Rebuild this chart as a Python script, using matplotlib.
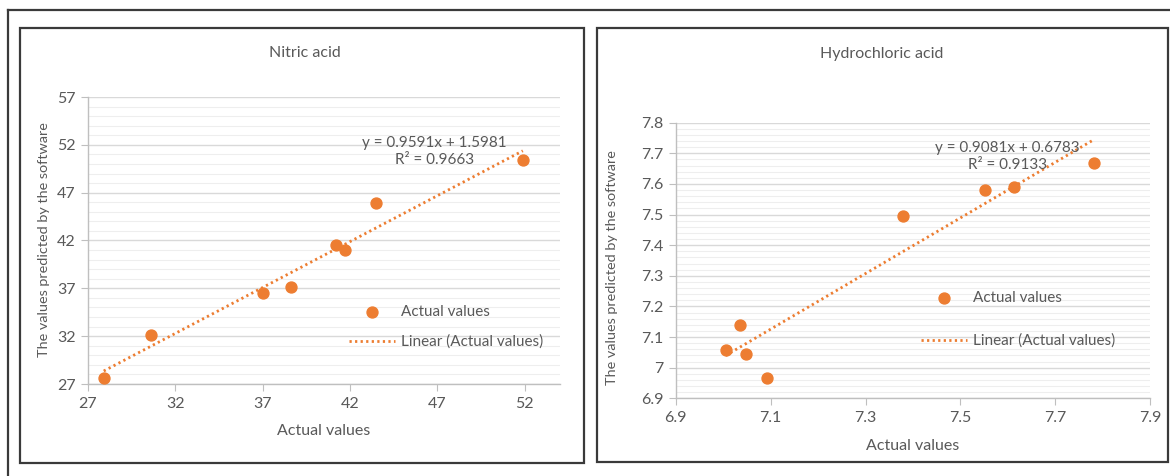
import matplotlib
matplotlib.use("Agg")
import matplotlib.pyplot as plt
import numpy as np
from matplotlib.lines import Line2D
from matplotlib.ticker import FuncFormatter, MultipleLocator

plt.rcParams['font.family'] = ['Lato', 'DejaVu Sans']

ORANGE = '#ED7D31'
TXT = '#595959'

# Nitric acid: actual vs predicted
nitric_actual = [27.9, 30.6, 37.0, 38.6, 41.2, 41.7, 43.5, 51.9]
nitric_pred = [27.6, 32.15, 36.5, 37.1, 41.5, 41.0, 45.9, 50.4]
nitric_slope, nitric_icpt, nitric_r2 = 0.9591, 1.5981, 0.9663
nitric_xticks = [27, 32, 37, 42, 47, 52]
nitric_yticks = [27, 32, 37, 42, 47, 52, 57]

# Hydrochloric acid: actual vs predicted
hcl_actual = [7.005, 7.035, 7.049, 7.093, 7.378, 7.551, 7.613, 7.781]
hcl_pred = [7.057, 7.138, 7.045, 6.966, 7.496, 7.579, 7.590, 7.668]
hcl_slope, hcl_icpt, hcl_r2 = 0.9081, 0.6783, 0.9133
hcl_xticks = [6.9, 7.1, 7.3, 7.5, 7.7, 7.9]
hcl_yticks = [6.9, 7.0, 7.1, 7.2, 7.3, 7.4, 7.5, 7.6, 7.7, 7.8]

fig = plt.figure(figsize=(11.7, 4.76), dpi=100)
W, H = 1170, 476


def px_rect(x0, y0, x1, y1):
    # pixel box (top-left origin) -> figure fraction [l, b, w, h]
    return [x0 / W, 1 - y1 / H, (x1 - x0) / W, (y1 - y0) / H]


def frame(x0, y0, x1, y1, lw=1.6):
    fig.add_artist(plt.Rectangle((x0 / W, 1 - y1 / H), (x1 - x0) / W, (y1 - y0) / H,
                                 transform=fig.transFigure, fill=False,
                                 edgecolor='#3a3a3a', linewidth=lw))


# outer frame (top and left edges) and the two chart boxes
fig.add_artist(Line2D([8 / W, 1.0], [1 - 10 / H, 1 - 10 / H], transform=fig.transFigure,
                      color='#3a3a3a', lw=1.6))
fig.add_artist(Line2D([8 / W, 8 / W], [0, 1 - 10 / H], transform=fig.transFigure,
                      color='#3a3a3a', lw=1.6))
frame(20, 28, 584, 463)
frame(597, 28, 1168, 462)


def draw(ax, xs, ys, slope, icpt, r2, xticks, yticks, xlim, ylim, minor,
         eq_pos, leg_anchor, leg_space, ylab_pos):
    ax.set_xlim(*xlim)
    ax.set_ylim(*ylim)
    ax.set_xticks(xticks)
    ax.set_yticks(yticks)
    ax.yaxis.set_minor_locator(MultipleLocator(minor))
    fmt = FuncFormatter(lambda v, p: '{:g}'.format(round(v, 3)))
    ax.xaxis.set_major_formatter(fmt)
    ax.yaxis.set_major_formatter(fmt)

    ax.grid(True, which='major', axis='y', color='#d9d9d9', lw=1.0, zorder=0)
    ax.grid(True, which='minor', axis='y', color='#eeeeee', lw=0.8, zorder=0)
    ax.set_axisbelow(True)
    for s in ['top', 'right']:
        ax.spines[s].set_visible(False)
    for s in ['left', 'bottom']:
        ax.spines[s].set_color('#bfbfbf')
        ax.spines[s].set_linewidth(1.0)
    ax.tick_params(which='major', direction='out', length=5, color='#bfbfbf',
                   labelsize=11.5, labelcolor=TXT, pad=4)
    ax.tick_params(which='minor', length=0)

    ax.scatter(xs, ys, s=62, color=ORANGE, zorder=3, label='Actual values')
    lx = np.array([min(xs), max(xs)])
    ax.plot(lx, slope * lx + icpt, color=ORANGE, lw=2.0, linestyle=(0, (0.8, 1.2)),
            zorder=2, label='Linear (Actual values)')

    ax.text(eq_pos[0], eq_pos[1],
            'y = {}x + {}\nR² = {}'.format(slope, icpt, r2),
            transform=ax.transAxes, ha='center', va='center', fontsize=11,
            color=TXT, linespacing=1.25, multialignment='center')

    ax.legend(loc='lower left', bbox_to_anchor=leg_anchor, frameon=False,
              fontsize=11, labelcolor=TXT, handlelength=3.0, handletextpad=0.4,
              labelspacing=leg_space, borderaxespad=0, scatterpoints=1)

    ax.set_xlabel('Actual values', fontsize=11.5, color=TXT, labelpad=10)
    ax.set_ylabel('The values predicted by the software', fontsize=10.4, color=TXT)
    ax.yaxis.set_label_coords(*ylab_pos)


ax1 = fig.add_axes(px_rect(88, 97, 559.5, 384))
draw(ax1, nitric_actual, nitric_pred, nitric_slope, nitric_icpt, nitric_r2,
     nitric_xticks, nitric_yticks, (27, 54), (27, 57), 1,
     (0.734, 0.81), (0.54, 0.10), 1.05, (-0.0806, 0.502))
fig.text(305 / W, 1 - 53 / H, 'Nitric acid', ha='center', va='center',
         fontsize=11.5, color=TXT)

ax2 = fig.add_axes(px_rect(675.8, 122.7, 1150.1, 398.3))
draw(ax2, hcl_actual, hcl_pred, hcl_slope, hcl_icpt, hcl_r2,
     hcl_xticks, hcl_yticks, (6.9, 7.9), (6.9, 7.8), 0.02,
     (0.70, 0.877), (0.505, 0.16), 1.85, (-0.122, 0.476))
fig.text(882 / W, 1 - 54 / H, 'Hydrochloric acid', ha='center', va='center',
         fontsize=11.5, color=TXT)

fig.savefig('out.png', dpi=100, facecolor='white')
